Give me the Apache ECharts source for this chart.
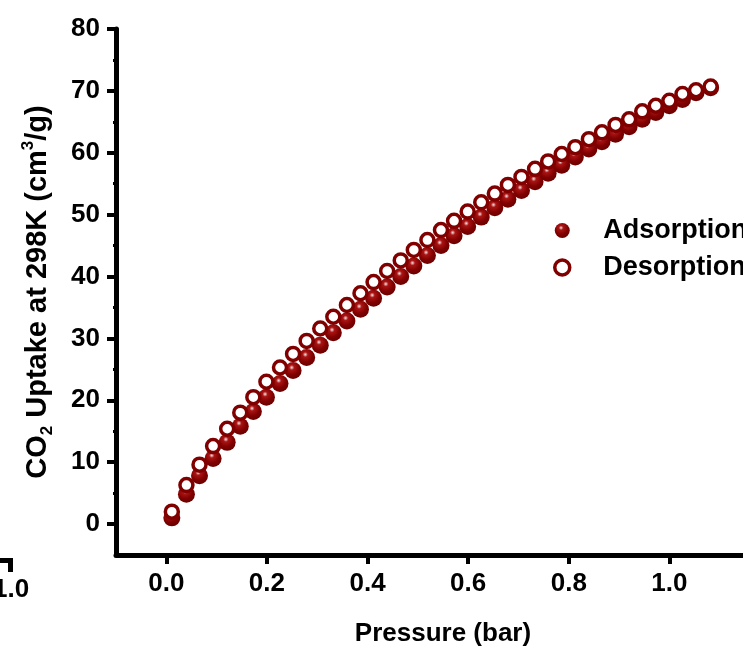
<!DOCTYPE html>
<html>
<head>
<meta charset="utf-8">
<script src="https://cdn.jsdelivr.net/npm/echarts@6/dist/echarts.min.js"></script>
<style>
	html, body { margin: 0; padding: 0; background: #fff; }
	#chart { width: 743px; height: 649px; }
</style>
</head>
<body>
<div id="chart"></div>
<script>
( function() {

	// pressure (bar)
	const pressure = [0.011, 0.040, 0.066, 0.093, 0.121, 0.147, 0.173, 0.199, 0.226, 0.252,
		0.279, 0.306, 0.332, 0.359, 0.386, 0.412, 0.439, 0.466, 0.492, 0.519,
		0.546, 0.572, 0.599, 0.626, 0.653, 0.679, 0.706, 0.733, 0.759, 0.786,
		0.813, 0.840, 0.866, 0.893, 0.920, 0.946, 0.973, 1.000, 1.026, 1.053, 1.082];

	const adsorption = [1.0, 4.8, 7.8, 10.6, 13.2, 15.8, 18.2, 20.5, 22.7, 24.8,
		26.9, 28.9, 30.9, 32.8, 34.7, 36.5, 38.3, 40.0, 41.7, 43.4,
		45.0, 46.6, 48.1, 49.6, 51.1, 52.5, 53.9, 55.3, 56.7, 58.0,
		59.3, 60.6, 61.8, 63.0, 64.2, 65.4, 66.5, 67.6, 68.6, 69.7, 70.5];

	const desorption = [2.0, 6.3, 9.6, 12.6, 15.4, 18.0, 20.5, 23.0, 25.3, 27.5,
		29.6, 31.6, 33.5, 35.4, 37.3, 39.1, 40.9, 42.6, 44.3, 45.9,
		47.5, 49.0, 50.5, 52.0, 53.4, 54.8, 56.1, 57.4, 58.6, 59.8,
		60.9, 62.2, 63.3, 64.5, 65.4, 66.7, 67.6, 68.4, 69.5, 70.1, 70.7];

	const xMajor = [0, 0.2, 0.4, 0.6, 0.8, 1.0, 1.2];
	const xMinor = [0.1, 0.3, 0.5, 0.7, 0.9, 1.1];
	const yMajor = [0, 10, 20, 30, 40, 50, 60, 70, 80];
	const yMinor = [5, 15, 25, 35, 45, 55, 65, 75];

	const font = "'Liberation Sans', Arial, sans-serif";
	const red = '#800000';

	const pairs = (xs, ys) => xs.map((x, i) => [x, ys[i]]);

	const sphere = {
		type: 'radial', x: 0.42, y: 0.32, r: 0.75,
		colorStops: [
			{ offset: 0, color: '#f4e4e4' },
			{ offset: 0.2, color: '#aa1414' },
			{ offset: 0.6, color: '#800000' },
			{ offset: 1, color: '#640000' }
		]
	};

	const baseAxis = {
		axisLine: { show: true, onZero: false, lineStyle: { color: '#000', width: 5 } },
		splitLine: { show: false },
		axisTick: { show: true, length: 9, lineStyle: { color: '#000', width: 4 } }
	};

	const minorAxis = {
		axisLine: { show: false, onZero: false },
		splitLine: { show: false },
		axisLabel: { show: false },
		axisTick: { show: true, length: 3, lineStyle: { color: '#000', width: 3 } }
	};

	const chart = echarts.init(document.getElementById('chart'), null, { renderer: 'canvas' });

	chart.setOption({
		animation: false,
		backgroundColor: '#fff',
		grid: { left: 116, top: 29, width: 654, height: 526, containLabel: false, outerBoundsMode: 'none' },
		xAxis: [
			Object.assign({}, baseAxis, {
				type: 'value', min: -0.1, max: 1.2,
				name: 'Pressure (bar)', nameLocation: 'middle', nameGap: 66,
				nameTextStyle: { fontFamily: font, fontWeight: 'bold', fontSize: 26, color: '#000' },
				axisTick: Object.assign({}, baseAxis.axisTick, { customValues: xMajor }),
				axisLabel: {
					customValues: xMajor, margin: 16,
					fontFamily: font, fontWeight: 'bold', fontSize: 26, color: '#000',
					formatter: v => v.toFixed(1)
				}
			}),
			Object.assign({}, minorAxis, {
				type: 'value', min: -0.1, max: 1.2, position: 'bottom',
				axisTick: Object.assign({}, minorAxis.axisTick, { customValues: xMinor }),
				axisLabel: { show: false, customValues: xMinor }
			})
		],
		yAxis: [
			Object.assign({}, baseAxis, {
				type: 'value', min: -5, max: 80,
				name: '{t|CO}{sub|2}{t| Uptake at 298K (cm}{sup|3}{t|/g)}',
				nameLocation: 'middle', nameGap: 60, nameRotate: 90,
				nameTextStyle: {
					fontFamily: font, fontWeight: 'bold', fontSize: 29, color: '#000',
					rich: {
						t: { fontFamily: font, fontWeight: 'bold', fontSize: 29, color: '#000', lineHeight: 36 },
						sub: { fontFamily: font, fontWeight: 'bold', fontSize: 17, color: '#000', lineHeight: 36, verticalAlign: 'bottom', padding: [12, 0, 0, 0] },
						sup: { fontFamily: font, fontWeight: 'bold', fontSize: 17, color: '#000', lineHeight: 36, verticalAlign: 'top', padding: [0, 0, 14, 0] }
					}
				},
				axisTick: Object.assign({}, baseAxis.axisTick, { customValues: yMajor }),
				axisLabel: {
					customValues: yMajor, margin: 16,
					fontFamily: font, fontWeight: 'bold', fontSize: 26, color: '#000'
				}
			}),
			Object.assign({}, minorAxis, {
				type: 'value', min: -5, max: 80, position: 'left',
				axisTick: Object.assign({}, minorAxis.axisTick, { customValues: yMinor }),
				axisLabel: { show: false, customValues: yMinor }
			})
		],
		legend: {
			orient: 'vertical', left: 548, top: 212,
			itemWidth: 72, itemHeight: 15, itemGap: 10,
			textStyle: { fontFamily: font, fontWeight: 'bold', fontSize: 27, color: '#000' },
			data: [
				{ name: 'Adsorption' },
				{ name: 'Desorption', itemStyle: { borderWidth: 3.5 } }
			]
		},
		series: [
			{
				name: 'Adsorption', type: 'scatter',
				data: pairs(pressure, adsorption),
				symbol: 'circle', symbolSize: 17,
				itemStyle: { color: sphere, opacity: 1 }
			},
			{
				name: 'Desorption', type: 'scatter',
				data: pairs(pressure, desorption),
				symbol: 'circle', symbolSize: 13,
				itemStyle: { color: '#fff', borderColor: red, borderWidth: 3.5, opacity: 1 }
			}
		],
		graphic: [
			// clipped leftover in the corner of the original figure
			{ type: 'text', left: -7, top: 577, style: { text: '1.0', font: 'bold 26px ' + font, fill: '#000' } },
			{ type: 'rect', shape: { x: 0, y: 558, width: 13, height: 5 }, style: { fill: '#000' } },
			{ type: 'rect', shape: { x: 8, y: 558, width: 5, height: 14 }, style: { fill: '#000' } }
		]
	});

}() );
</script>
</body>
</html>
